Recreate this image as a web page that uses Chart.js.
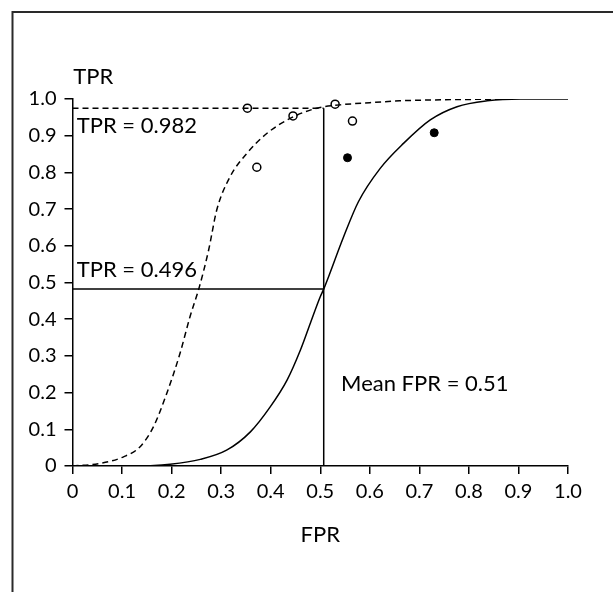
<!DOCTYPE html>
<html>
<head>
<meta charset="utf-8">
<script src="https://cdn.jsdelivr.net/npm/chart.js@4/dist/chart.umd.min.js"></script>
<style>
  html, body { margin: 0; padding: 0; background: #fff; overflow: hidden; }
  canvas { display: block; }
</style>
</head>
<body>
<canvas id="roc" width="613" height="592"></canvas>
<script>
// ─── Data ───────────────────────────────────────────────────────────────────
const tickLabels = ['0', '0.1', '0.2', '0.3', '0.4', '0.5', '0.6', '0.7', '0.8', '0.9', '1.0'];

// solid ROC curve
const fprSolid = [0, 0.136, 0.197, 0.258, 0.311, 0.359, 0.399, 0.433, 0.46, 0.48, 0.5, 0.507, 0.547, 0.577, 0.621, 0.668, 0.722, 0.776, 0.837, 0.904, 1.0];
const tprSolid = [0, 0, 0.005, 0.018, 0.043, 0.093, 0.161, 0.234, 0.316, 0.389, 0.461, 0.482, 0.624, 0.72, 0.811, 0.879, 0.943, 0.979, 0.995, 1.0, 1.0];

// dashed ROC curve
const fprDashed = [0, 0.056, 0.103, 0.136, 0.163, 0.19, 0.217, 0.237, 0.256, 0.275, 0.291, 0.318, 0.352, 0.392, 0.439, 0.493, 0.54, 0.6, 0.66, 0.75, 0.89];
const tprDashed = [0, 0.007, 0.025, 0.052, 0.106, 0.197, 0.307, 0.406, 0.488, 0.59, 0.697, 0.788, 0.852, 0.906, 0.947, 0.975, 0.984, 0.99, 0.995, 0.998, 1.0];

// study points
const openFpr = [0.353, 0.372, 0.445, 0.53, 0.565];
const openTpr = [0.975, 0.814, 0.954, 0.986, 0.94];
const filledFpr = [0.555, 0.73];
const filledTpr = [0.84, 0.908];

// reference lines
const meanFpr = 0.507;
const tprAtMean = 0.482;
const tprCap = 0.975;

// ─── Text annotations ───────────────────────────────────────────────────────
const annoTexts = ['TPR', 'FPR', 'TPR = 0.982', 'TPR = 0.496', 'Mean FPR = 0.51'];
const annoPos = [
  { x: 0.0016, y: 1.041, align: 'left' },
  { x: 0.5, y: -0.208, align: 'center' },
  { x: 0.0085, y: 0.906, align: 'left' },
  { x: 0.0085, y: 0.515, align: 'left' },
  { x: 0.542, y: 0.2045, align: 'left' }
];

const FONT = 'Lato, "Open Sans", sans-serif';
const pts = (xs, ys) => xs.map((x, i) => ({ x, y: ys[i] }));

const annotations = {
  id: 'annotations',
  beforeDraw(chart) {
    const c = chart.ctx;
    c.save();
    c.strokeStyle = '#2a2a2a';
    c.lineWidth = 2;
    c.beginPath();
    c.moveTo(613, 12);
    c.lineTo(12.5, 12);
    c.lineTo(12.5, 592);
    c.stroke();
    c.restore();
  },
  afterDraw(chart) {
    const c = chart.ctx, xs = chart.scales.x, ys = chart.scales.y;
    c.save();
    c.fillStyle = '#000';
    c.font = '22px ' + FONT;
    c.textBaseline = 'alphabetic';
    annoTexts.forEach((txt, i) => {
      const p = annoPos[i];
      c.textAlign = p.align;
      c.fillText(txt, xs.getPixelForValue(p.x), ys.getPixelForValue(p.y));
    });
    c.restore();
  }
};

const axisOpts = {
  type: 'linear', min: 0, max: 1,
  grid: { drawOnChartArea: false, drawTicks: true, tickLength: 8, color: '#000', lineWidth: 1.5 },
  border: { color: '#000', width: 1.5 },
  ticks: {
    stepSize: 0.1, autoSkip: false, maxRotation: 0, color: '#000',
    font: { family: FONT, size: 20 },
    callback: (v, i) => tickLabels[i]
  }
};

new Chart(document.getElementById('roc'), {
  type: 'line',
  data: {
    datasets: [
      { data: pts(fprSolid, tprSolid), borderColor: '#000', borderWidth: 1.5, pointRadius: 0, cubicInterpolationMode: 'monotone', fill: false },
      { data: pts(fprDashed, tprDashed), borderColor: '#000', borderWidth: 1.5, borderDash: [6, 4], pointRadius: 0, cubicInterpolationMode: 'monotone', fill: false },
      { data: [{ x: 0, y: tprCap }, { x: meanFpr, y: tprCap }], borderColor: '#000', borderWidth: 1.5, borderDash: [6, 4], pointRadius: 0 },
      { data: [{ x: 0, y: tprAtMean }, { x: meanFpr, y: tprAtMean }], borderColor: '#000', borderWidth: 1.5, pointRadius: 0 },
      { data: [{ x: meanFpr, y: 0 }, { x: meanFpr, y: tprCap }], borderColor: '#000', borderWidth: 1.5, pointRadius: 0 },
      { data: pts(openFpr, openTpr), showLine: false, pointRadius: 4, pointBorderWidth: 1.5, pointBorderColor: '#000', pointBackgroundColor: '#fff' },
      { data: pts(filledFpr, filledTpr), showLine: false, pointRadius: 4, pointBorderWidth: 1, pointBorderColor: '#000', pointBackgroundColor: '#000' }
    ]
  },
  options: {
    responsive: false,
    animation: false,
    devicePixelRatio: 1,
    layout: { padding: { left: 0, right: 45, top: 99, bottom: 46 } },
    plugins: { legend: { display: false }, tooltip: { enabled: false } },
    scales: {
      x: { ...axisOpts, ticks: { ...axisOpts.ticks, padding: 6 }, afterFit: s => { s.height = 80; } },
      y: { ...axisOpts, ticks: { ...axisOpts.ticks, padding: 8 }, afterFit: s => { s.width = 72.5; } }
    }
  },
  plugins: [annotations]
});
</script>
</body>
</html>
